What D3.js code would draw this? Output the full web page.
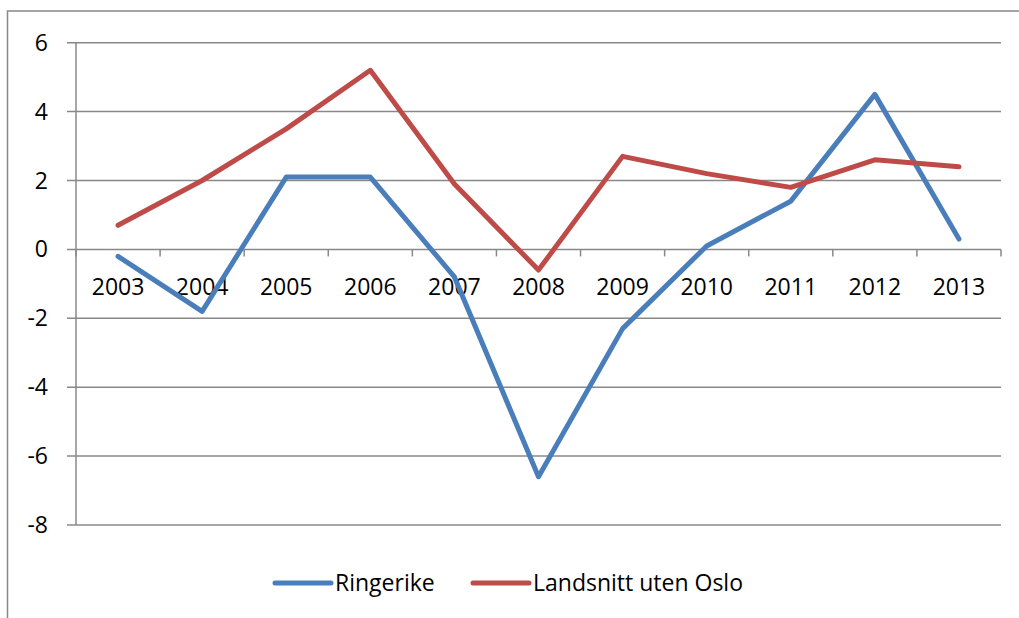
<!DOCTYPE html>
<html>
<head>
<meta charset="utf-8">
<script src="https://cdn.jsdelivr.net/npm/d3@7"></script>
<style>
  body { margin: 0; background: #fff; }
  svg { display: block; font-family: "Open Sans", sans-serif; }
</style>
</head>
<body>
<div id="chart"></div>
<script>
const years = ["2003", "2004", "2005", "2006", "2007", "2008", "2009", "2010", "2011", "2012", "2013"];
const ringerike = [-0.2, -1.8, 2.1, 2.1, -0.8, -6.6, -2.3, 0.1, 1.4, 4.5, 0.3];
const landsnitt = [0.7, 2.0, 3.5, 5.2, 1.9, -0.6, 2.7, 2.2, 1.8, 2.6, 2.4];
const yTicks = [6, 4, 2, 0, -2, -4, -6, -8];

const seriesList = [
    { name: "Ringerike", values: ringerike, color: "#4a7ebb" },
    { name: "Landsnitt uten Oslo", values: landsnitt, color: "#be4b48" }
];

const width = 1019, height = 618;
const gridColor = "#888888";

const svg = d3.select("#chart")
    .append("svg")
    .attr("width", width)
    .attr("height", height);

// outer chart border (runs off the right and bottom edges)
svg.append("rect")
    .attr("x", 7.5).attr("y", 11)
    .attr("width", width + 20).attr("height", height + 20)
    .attr("fill", "none")
    .attr("stroke", gridColor)
    .attr("stroke-width", 1.5);

const x = d3.scaleBand()
    .domain(years)
    .range([76, 1001]);

const y = d3.scaleLinear()
    .domain([-8, 6])
    .range([525, 42.7]);

// horizontal gridlines + y tick marks
svg.append("g")
    .selectAll("line")
    .data(yTicks)
    .join("line")
    .attr("x1", 67).attr("x2", 1001)
    .attr("y1", d => y(d)).attr("y2", d => y(d))
    .attr("stroke", gridColor)
    .attr("stroke-width", 1.5);

// y axis line
svg.append("line")
    .attr("x1", 76).attr("x2", 76)
    .attr("y1", y(6)).attr("y2", y(-8))
    .attr("stroke", gridColor)
    .attr("stroke-width", 1.5);

// y labels
svg.append("g")
    .selectAll("text")
    .data(yTicks)
    .join("text")
    .attr("x", 48)
    .attr("y", d => y(d))
    .attr("dy", "0.35em")
    .attr("text-anchor", "end")
    .attr("font-size", 23)
    .attr("fill", "#000")
    .text(d => d);

// category ticks on the zero line
const xEdges = years.map(d => x(d)).concat([x.range()[1]]);
svg.append("g")
    .selectAll("line")
    .data(xEdges)
    .join("line")
    .attr("x1", d => d).attr("x2", d => d)
    .attr("y1", y(0)).attr("y2", y(0) + 7)
    .attr("stroke", gridColor)
    .attr("stroke-width", 1.5);

// category labels
svg.append("g")
    .selectAll("text")
    .data(years)
    .join("text")
    .attr("x", d => x(d) + x.bandwidth() / 2)
    .attr("y", 287)
    .attr("dy", "0.35em")
    .attr("text-anchor", "middle")
    .attr("font-size", 23)
    .attr("fill", "#000")
    .text(d => d);

const line = d3.line()
    .x((d, i) => x(years[i]) + x.bandwidth() / 2)
    .y(d => y(d));

svg.append("g")
    .selectAll("path")
    .data(seriesList)
    .join("path")
    .attr("d", d => line(d.values))
    .attr("fill", "none")
    .attr("stroke", d => d.color)
    .attr("stroke-width", 5)
    .attr("stroke-linejoin", "round")
    .attr("stroke-linecap", "round");

// legend
const legendX = [275, 473];
const legend = svg.append("g")
    .selectAll("g")
    .data(seriesList)
    .join("g")
    .attr("transform", (d, i) => `translate(${legendX[i]},583)`);

legend.append("line")
    .attr("x1", 0).attr("x2", 56)
    .attr("stroke", d => d.color)
    .attr("stroke-width", 5)
    .attr("stroke-linecap", "round");

legend.append("text")
    .attr("x", 60)
    .attr("dy", "0.35em")
    .attr("font-size", 23)
    .attr("fill", "#000")
    .text(d => d.name);
</script>
</body>
</html>
